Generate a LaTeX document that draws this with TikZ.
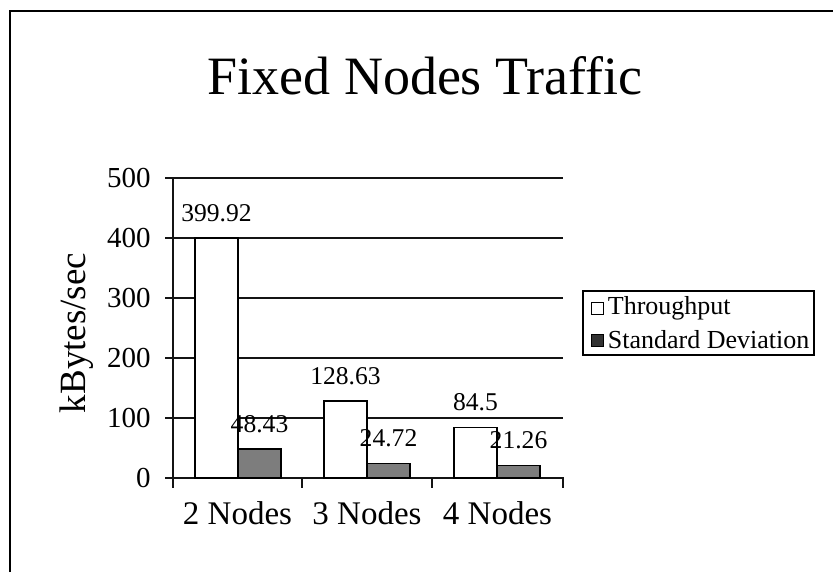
\documentclass[tikz,border=0pt]{standalone}
\usepackage{fontspec}
\setmainfont{Liberation Serif}
\usetikzlibrary{positioning}
\definecolor{sdGray}{RGB}{125, 125, 125}
\definecolor{gridBlack}{RGB}{20, 20, 20}

\begin{document}
\begin{tikzpicture}[
    x=0.5pt, y=-0.5pt,
    % Estilo para barras de throughput
    tp_bar/.style={
        draw=black,
        fill=white,
        line width=0.7pt,
        inner sep=0pt, outer sep=0pt,
        minimum width=21.5pt,
        anchor=south west
    },
    % Estilo para barras de desviacion
    sd_bar/.style={
        tp_bar,
        fill=sdGray
    },
    % Estilo para etiquetas de valores
    value_label/.style={
        inner sep=0pt,
        font=\fontsize{12.8}{14}\selectfont
    },
    % Estilo para ejes y rejilla
    grid_line/.style={
        line width=0.7pt,
        gridBlack
    },
    tick_label/.style={
        anchor=east,
        inner sep=2pt,
        font=\fontsize{14.5}{16}\selectfont
    },
    cat_label/.style={
        font=\fontsize{16.5}{19}\selectfont
    },
    legend_text/.style={
        inner sep=1pt,
        font=\fontsize{13}{15}\selectfont
    }
]

    \useasboundingbox (0,0) rectangle (833,572);

    % --- 1. Marco y titulo ---
    \draw[line width=1pt] (10,572) -- (10,11) -- (833,11);
    \node[anchor=base, font=\fontsize{27}{32}\selectfont] (title) at (425,95) {Fixed Nodes Traffic};

    % --- 2. Rejilla ---
    \coordinate (y_500) at (173,178);
    \coordinate (y_400) at (173,238);
    \coordinate (y_300) at (173,298);
    \coordinate (y_200) at (173,358);
    \coordinate (y_100) at (173,418);
    \coordinate (y_0) at (173,478);
    \coordinate (x_end) at (563,478);

    \draw[grid_line] (y_500) -- (y_500 -| x_end);
    \draw[grid_line] (y_400) -- (y_400 -| x_end);
    \draw[grid_line] (y_300) -- (y_300 -| x_end);
    \draw[grid_line] (y_200) -- (y_200 -| x_end);
    \draw[grid_line] (y_100) -- (y_100 -| x_end);

    % --- 3. Ejes ---
    \draw[grid_line] (y_500) -- ++(0,310);
    \draw[grid_line] (y_0) -- (x_end) -- ++(0,10);
    \draw[grid_line] (302,478) -- ++(0,10);
    \draw[grid_line] (432,478) -- ++(0,10);
    \draw[grid_line] (y_500) -- ++(-8,0);
    \draw[grid_line] (y_400) -- ++(-8,0);
    \draw[grid_line] (y_300) -- ++(-8,0);
    \draw[grid_line] (y_200) -- ++(-8,0);
    \draw[grid_line] (y_100) -- ++(-8,0);
    \draw[grid_line] (y_0) -- ++(-8,0);

    \node[tick_label] (t_500) at (155,178) {500};
    \node[tick_label] (t_400) at (155,238) {400};
    \node[tick_label] (t_300) at (155,298) {300};
    \node[tick_label] (t_200) at (155,358) {200};
    \node[tick_label] (t_100) at (155,418) {100};
    \node[tick_label] (t_0) at (155,478) {0};

    \node[rotate=90, font=\fontsize{18.5}{21}\selectfont] (y_title) at (77,333) {kBytes/sec};

    % --- 4. Barras ---
    \node[tp_bar, minimum height=120pt] (tp_two) at (195,478) {};
    \node[sd_bar, minimum height=14.5pt] (sd_two) at (238,478) {};
    \node[tp_bar, minimum height=38.6pt] (tp_three) at (324,478) {};
    \node[sd_bar, minimum height=7.4pt] (sd_three) at (367,478) {};
    \node[tp_bar, minimum height=25.35pt] (tp_four) at (454,478) {};
    \node[sd_bar, minimum height=6.4pt] (sd_four) at (497,478) {};

    % Etiquetas de valores
    \node[value_label, above=8pt of tp_two] (v_tp_two) {399.92};
    \node[value_label, above=8pt of sd_two] (v_sd_two) {48.43};
    \node[value_label, above=8pt of tp_three] (v_tp_three) {128.63};
    \node[value_label, above=8pt of sd_three] (v_sd_three) {24.72};
    \node[value_label, above=8pt of tp_four] (v_tp_four) {84.5};
    \node[value_label, above=8pt of sd_four] (v_sd_four) {21.26};

    % Categorias
    \node[cat_label] (cat_two) at (237.5,513) {2 Nodes};
    \node[cat_label] (cat_three) at (367,513) {3 Nodes};
    \node[cat_label] (cat_four) at (497.5,513) {4 Nodes};

    % --- 5. Leyenda ---
    \node[draw, line width=0.6pt, minimum width=115.5pt, minimum height=32pt] (legend_box) at (698.5,323) {};
    \node[draw, line width=0.5pt, fill=white, minimum size=6pt, inner sep=0pt] (key_tp) at (597,308) {};
    \node[legend_text, right=1pt of key_tp] (key_tp_text) {Throughput};
    \node[draw, line width=0.5pt, fill=sdGray!40!black, minimum size=6pt, inner sep=0pt] (key_sd) at (597,340) {};
    \node[legend_text, right=1pt of key_sd] (key_sd_text) {Standard Deviation};

\end{tikzpicture}
\end{document}
